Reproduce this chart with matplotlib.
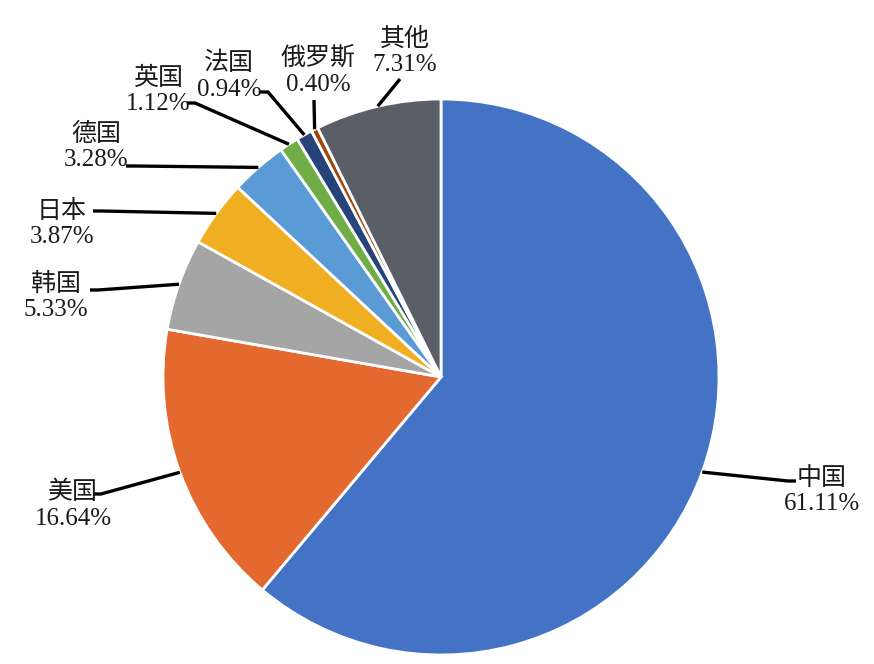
import numpy as np
import matplotlib
matplotlib.use("Agg")
import matplotlib.pyplot as plt

countries = ["中国", "美国", "韩国", "日本", "德国", "英国", "法国", "俄罗斯", "其他"]
shares = [61.11, 16.64, 5.33, 3.87, 3.28, 1.12, 0.94, 0.40, 7.31]
colors = ["#4472C4", "#E4692F", "#A5A5A5", "#F0AF22", "#5B9BD5",
          "#70AD47", "#264478", "#9E480E", "#5A5E66"]

# label text centre and elbow of the leader line, in pixels from top-left
label_pos = [(822, 491), (73, 505), (56, 297), (62, 224), (96, 147),
             (158, 91), (229, 76), (318, 71), (405, 52)]
elbow = [(788, 481), (101, 494), (98, 290), (101, 211), (134, 166),
         (195, 103), (268, 92), (314, 100), (400, 79)]
elbow_dir = [1, -1, -1, -1, -1, -1, -1, 0, 0]

W, H = 874, 664
fig = plt.figure(figsize=(W / 100, H / 100), dpi=100)
ax = fig.add_axes([0, 0, 1, 1])

cx, cy, r = 441, H - 377, 278
wedges, _ = ax.pie(shares, colors=colors, startangle=90, counterclock=False,
                   center=(cx, cy), radius=r, frame=True,
                   wedgeprops=dict(edgecolor="white", linewidth=2))
ax.set_xlim(0, W)
ax.set_ylim(0, H)
ax.set_aspect("equal")
ax.axis("off")

fam = ["Liberation Serif", "Noto Sans CJK SC"]
for w, name, val, (tx, ty), (ex, ey), d in zip(wedges, countries, shares,
                                               label_pos, elbow, elbow_dir):
    ang = np.deg2rad((w.theta1 + w.theta2) / 2)
    sx, sy = cx + r * np.cos(ang), cy + r * np.sin(ang)
    xs = [sx, ex]
    ys = [sy, H - ey]
    if d != 0:
        xs.append(ex + 8 * d)
        ys.append(H - ey)
    ax.plot(xs, ys, color="black", lw=2.4, solid_capstyle="butt")
    ax.text(tx, H - ty, f"{name}\n{val:.2f}%", ha="center", va="center",
            fontsize=18, family=fam, linespacing=1.22, color="#1a1a1a")

fig.savefig("out.png", dpi=100)
